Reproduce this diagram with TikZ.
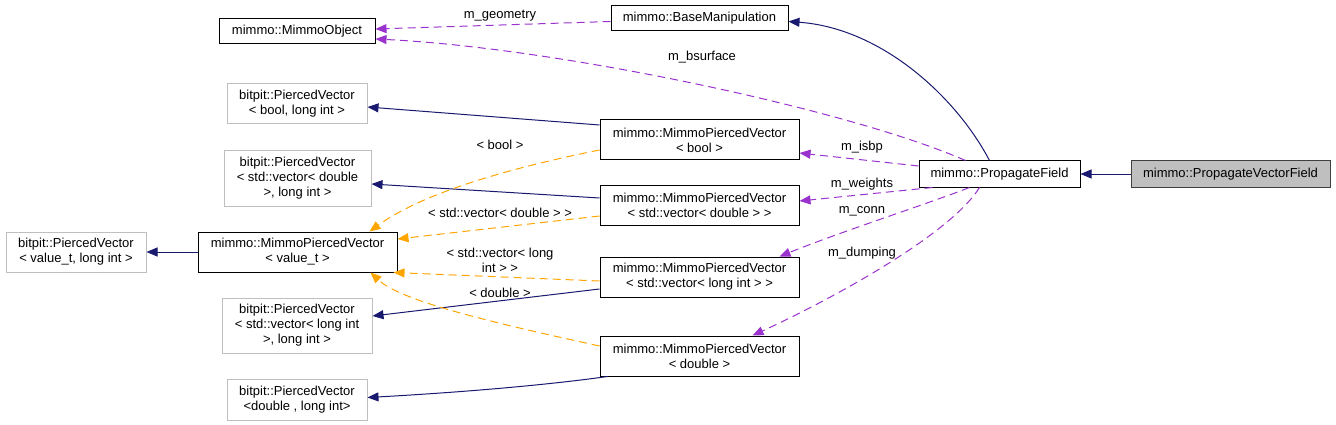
\documentclass[tikz,border=0pt]{standalone}
\usepackage{fontspec}
\setmainfont{Liberation Sans}
\usepackage{tikz}
\usetikzlibrary{arrows.meta,positioning,calc}
\definecolor{DoxNavy}{HTML}{191970}
\definecolor{DoxOrchid}{HTML}{9A32CD}
\definecolor{DoxOrange}{HTML}{FFA500}
\definecolor{DoxGrey}{HTML}{BFBFBF}
\definecolor{DoxEdge}{HTML}{404040}
\begin{document}
\begin{tikzpicture}[x=1pt,y=-1pt,
  txt/.style={font=\fontsize{13}{15}\selectfont,align=center,inner sep=0pt},
  cls/.style={txt,draw=black,fill=white,line width=1pt,minimum height=40pt},
  ext/.style={txt,draw=DoxGrey,fill=white,line width=1pt,minimum height=40pt},
  cur/.style={txt,draw=DoxEdge,fill=DoxGrey,line width=1pt,minimum height=26pt},
  lbl/.style={txt},
  inh/.style={DoxNavy,line width=1pt,-{Triangle[length=11pt,width=9pt]}},
  mem/.style={DoxOrchid,line width=1pt,dash pattern=on 8pt off 5pt,-{Triangle[length=11pt,width=9pt]}},
  tpl/.style={DoxOrange,line width=1pt,dash pattern=on 8pt off 5pt,-{Triangle[length=11pt,width=9pt]}}]
\useasboundingbox (0,0) rectangle (1336,425);
\node[cls,minimum width=156pt,minimum height=25pt] (mo) at (297,31.5) {mimmo::MimmoObject};
\node[cls,minimum width=177pt,minimum height=25pt] (bm) at (699.5,18.5) {mimmo::BaseManipulation};
\node[ext,minimum width=140pt] (pvb) at (297,104) {bitpit::PiercedVector\\< bool, long int >};
\node[ext,minimum width=147pt,minimum height=55pt] (pvvd) at (297.5,178.5) {bitpit::PiercedVector\\< std::vector< double\\>, long int >};
\node[ext,minimum width=140pt] (pvt) at (76,252) {bitpit::PiercedVector\\< value\_t, long int >};
\node[cls,minimum width=199pt] (mpvt) at (297.5,252) {mimmo::MimmoPiercedVector\\< value\_t >};
\node[ext,minimum width=150pt,minimum height=55pt] (pvl) at (297,325.5) {bitpit::PiercedVector\\< std::vector< long int\\>, long int >};
\node[ext,minimum width=140pt,minimum height=41pt] (pvd) at (297,399.5) {bitpit::PiercedVector\\<double , long int>};
\node[cls,minimum width=199pt] (mpvb) at (699.5,140) {mimmo::MimmoPiercedVector\\< bool >};
\node[cls,minimum width=199pt] (mpvvd) at (699.5,205) {mimmo::MimmoPiercedVector\\< std::vector< double > >};
\node[cls,minimum width=199pt] (mpvl) at (699.5,277) {mimmo::MimmoPiercedVector\\< std::vector< long int > >};
\node[cls,minimum width=199pt] (mpvd) at (699.5,356) {mimmo::MimmoPiercedVector\\< double >};
\node[cls,minimum width=161pt,minimum height=26pt] (pf) at (999.5,174) {mimmo::PropagateField};
\node[cur,minimum width=199pt] (pvf) at (1230.5,174) {mimmo::PropagateVectorField};
\draw[inh] (pvf) -- (pf);
\draw[inh] ($(pf.north)+(-10,0)$) .. controls (955,95) and (880,28) .. ($(bm.east)+(0,3)$);
\draw[inh] ($(mpvb.west)+(0,-15)$) -- ($(pvb.east)+(0,3)$);
\draw[inh] ($(mpvvd.west)+(0,-7)$) -- ($(pvvd.east)+(0,5.5)$);
\draw[inh] (mpvt) -- (pvt);
\draw[inh] ($(mpvl.west)+(0,12)$) -- ($(pvl.east)+(0,-9.5)$);
\draw[inh] ($(mpvd.south west)+(8,0)$) .. controls (540,386) and (450,393) .. ($(pvd.east)+(0,-2)$);
\draw[mem] ($(bm.west)+(0,3)$) -- ($(mo.east)+(0,-2.5)$);
\draw[mem] ($(pf.north)+(-34,0)$) .. controls (850,110) and (560,48) .. ($(mo.east)+(0,7.5)$);
\draw[mem] ($(pf.west)+(0,-8)$) -- ($(mpvb.east)+(0,13)$);
\draw[mem] ($(pf.south)+(-67,0)$) -- ($(mpvvd.east)+(0,-4)$);
\draw[mem] ($(pf.south)+(-30,0)$) .. controls (930,203) and (840,232) .. ($(mpvl.north)+(80,0)$);
\draw[mem] ($(pf.south)+(-20,0)$) .. controls (950,235) and (830,300) .. ($(mpvd.north)+(53,0)$);
\draw[tpl] ($(mpvb.west)+(0,10)$) .. controls (500,170) and (420,195) .. ($(mpvt.north)+(72,0)$);
\draw[tpl] ($(mpvvd.west)+(0,11)$) -- ($(mpvt.east)+(0,-13)$);
\draw[tpl] ($(mpvl.west)+(0,4)$) -- ($(mpvt.south east)+(-4,0)$);
\draw[tpl] ($(mpvd.west)+(0,-10)$) .. controls (480,320) and (400,300) .. ($(mpvt.south)+(73,0)$);
\node[lbl] (lgeo) at (500,16) {m\_geometry};
\node[lbl] (lbsurf) at (702,57) {m\_bsurface};
\node[lbl] (lisbp) at (862,147) {m\_isbp};
\node[lbl] (lweights) at (862,184) {m\_weights};
\node[lbl] (lconn) at (862,211) {m\_conn};
\node[lbl] (ldump) at (862,253) {m\_dumping};
\node[lbl] (lbool) at (500,145) {< bool >};
\node[lbl] (lvecd) at (500,213) {< std::vector< double > >};
\node[lbl] (lvecl) at (500,260) {< std::vector< long\\int > >};
\node[lbl] (ldouble) at (500,293) {< double >};
\end{tikzpicture}
\end{document}
